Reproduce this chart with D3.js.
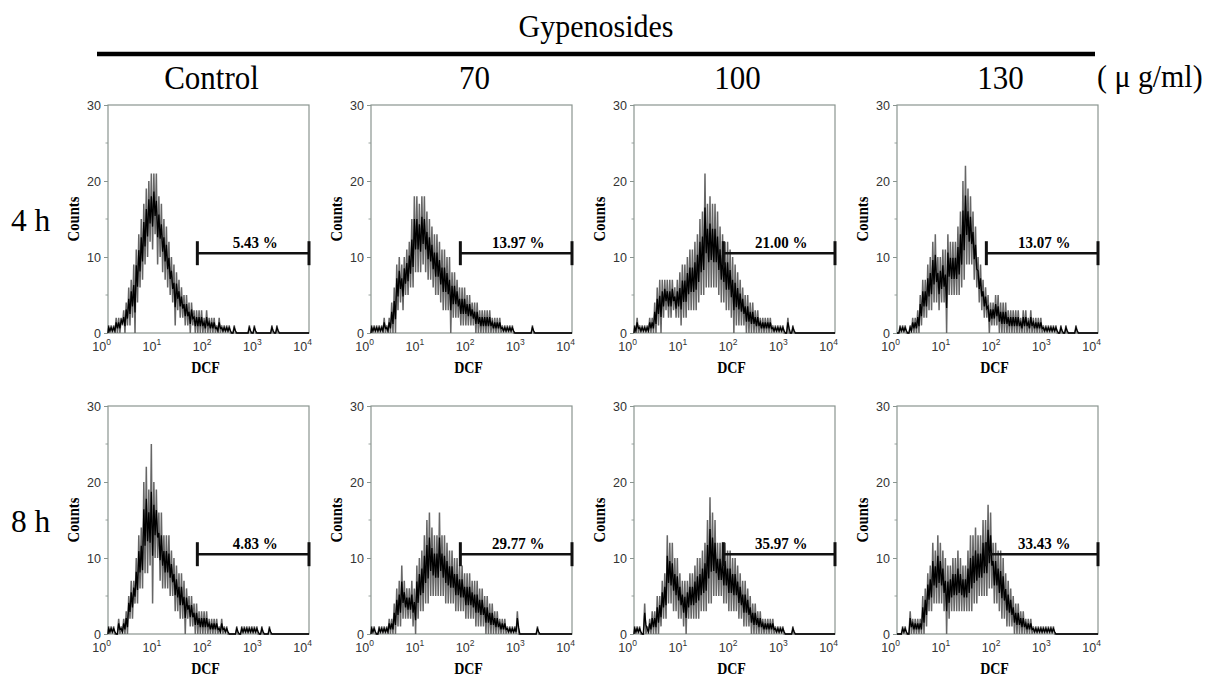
<!DOCTYPE html>
<html><head><meta charset="utf-8">
<script src="https://cdn.jsdelivr.net/npm/d3@7"></script>
<style>body{margin:0;background:#fff}</style>
</head><body>
<svg id="c" width="1208" height="678"></svg>
<script>
const title = "Gypenosides";
const columns = ["Control", "70", "100", "130"];
const unitLabel = "( \u03bc g/ml)";
const rows = ["4 h", "8 h"];
const gateLabels = [["5.43 %", "13.97 %", "21.00 %", "13.07 %"], ["4.83 %", "29.77 %", "35.97 %", "33.43 %"]];
const yTicks = [0, 10, 20, 30];
const yMinorTicks = [5, 15, 25];
const xTickExps = [0, 1, 2, 3, 4];
const gateStart = 60, gateEnd = 10000, gateLevel = 10.5;
// bin centres (log10 of DCF), 0.05 decade wide
const binDecades = d3.range(80).map(i => 0.025 + 0.05 * i);

// upper / lower envelope of counts in each bin
const hi_4h_control = [1,1,1,2,2,2,3,4,6,7, 9,11,13,15,17,19,20,21,21,21, 18,17,15,14,12,10,9,8,7,6, 5,5,4,4,3,3,3,3,2,3, 2,2,2,1,2,1,1,1,1,0, 1,0,0,0,0,0,1,0,1,0, 0,0,0,0,0,1,0,1,0,0, 0,0,0,0,0,0,0,0,0,0];
const lo_4h_control = [0,0,0,0,0,1,0,1,1,2, 0,4,6,7,9,10,12,11,13,9, 10,8,7,6,5,4,1,3,2,2, 1,1,0,1,0,0,0,0,0,0, 0,0,0,0,0,0,0,0,0,0, 0,0,0,0,0,0,0,0,0,0, 0,0,0,0,0,0,0,0,0,0, 0,0,0,0,0,0,0,0,0,0];
const hi_4h_70 = [1,1,1,1,1,2,1,2,4,6, 9,10,9,10,11,12,15,18,18,17, 18,18,16,15,14,13,13,12,11,11, 10,10,8,8,7,6,6,6,5,5, 4,4,4,3,3,3,3,3,2,2, 2,2,1,1,1,1,1,0,0,0, 0,0,0,0,1,0,0,0,0,0, 0,0,0,0,0,0,0,0,0,0];
const lo_4h_70 = [0,0,0,0,0,0,0,0,0,0, 3,4,3,5,5,6,6,8,8,8, 9,8,7,7,6,5,5,4,3,3, 3,0,2,2,2,1,1,1,1,1, 1,0,0,0,0,0,0,0,0,0, 0,0,0,0,0,0,0,0,0,0, 0,0,0,0,0,0,0,0,0,0, 0,0,0,0,0,0,0,0,0,0];
const hi_4h_100 = [1,2,1,1,1,1,2,2,4,6, 7,7,7,7,7,7,6,7,8,9, 9,10,11,11,12,13,15,16,21,17, 18,17,17,16,14,13,12,12,11,10, 9,8,7,6,5,5,4,4,3,3, 2,2,2,2,2,1,1,1,1,1, 0,2,0,1,0,0,0,0,0,0, 0,0,0,0,0,0,0,0,0,0];
const lo_4h_100 = [0,0,0,0,0,0,0,0,0,1, 0,2,3,2,2,3,2,2,1,2, 2,3,3,3,3,4,5,5,6,6, 6,6,6,5,4,4,3,3,2,0, 1,1,1,1,0,0,0,0,0,0, 0,0,0,0,0,0,0,0,0,0, 0,0,0,0,0,0,0,0,0,0, 0,0,0,0,0,0,0,0,0,0];
const hi_4h_130 = [0,1,1,1,0,1,2,2,3,5, 7,7,9,10,12,13,10,10,11,11, 13,12,12,12,14,16,20,22,19,18, 16,14,10,9,7,6,5,4,4,5, 5,4,4,4,3,3,3,3,3,2, 3,3,2,3,2,2,2,2,1,1, 1,1,1,1,0,1,0,1,0,0, 0,1,0,0,0,0,0,0,0,0];
const lo_4h_130 = [0,0,0,0,0,0,0,0,0,1, 2,2,3,3,4,4,3,4,4,0, 5,5,5,5,5,6,7,9,9,9, 7,6,4,3,2,2,0,1,1,1, 0,0,0,0,0,0,0,0,0,0, 0,0,0,0,0,0,0,0,0,0, 0,0,0,0,0,0,0,0,0,0, 0,0,0,0,0,0,0,0,0,0];
const hi_8h_control = [1,1,1,0,2,1,2,3,5,7, 7,10,13,14,20,22,19,25,20,19, 16,16,13,13,13,11,10,9,8,8, 7,6,5,5,4,4,3,3,3,3, 2,2,2,2,1,2,1,1,0,0, 0,1,0,1,1,1,1,1,1,1, 0,1,0,0,1,0,0,0,0,0, 0,0,0,0,0,0,0,0,0,0];
const lo_8h_control = [0,0,0,0,0,0,0,0,2,2, 4,4,6,6,8,8,9,4,10,10, 7,6,6,6,5,5,3,3,2,2, 0,2,1,1,0,0,0,0,0,0, 0,0,0,0,0,0,0,0,0,0, 0,0,0,0,0,0,0,0,0,0, 0,0,0,0,0,0,0,0,0,0, 0,0,0,0,0,0,0,0,0,0];
const hi_8h_70 = [1,1,0,1,1,1,1,2,2,4, 6,7,9,7,6,6,7,6,9,10, 11,13,15,16,14,13,13,16,13,13, 12,11,11,10,10,9,9,8,8,8, 7,7,7,6,6,5,5,4,4,3, 3,2,2,2,1,1,1,1,3,0, 0,0,0,0,0,0,1,0,0,0, 0,0,0,0,0,0,0,0,0,0];
const lo_8h_70 = [0,0,0,0,0,0,0,0,0,0, 1,1,2,2,2,2,1,0,2,3, 3,4,4,5,5,5,5,5,5,4, 4,4,4,3,3,3,3,2,2,2, 2,1,1,1,1,0,0,0,0,0, 0,0,0,0,0,0,0,0,0,0, 0,0,0,0,0,0,0,0,0,0, 0,0,0,0,0,0,0,0,0,0];
const hi_8h_100 = [1,1,1,0,4,1,2,3,3,5, 5,7,8,13,12,12,10,10,8,7, 7,7,8,8,9,10,10,11,12,15, 18,16,15,12,12,12,12,11,11,10, 10,9,8,7,7,6,5,4,4,3, 3,2,2,2,2,2,1,1,1,1, 0,0,0,1,0,0,0,0,0,0, 0,0,0,0,0,0,0,0,0,0];
const lo_8h_100 = [0,0,0,0,0,0,0,0,0,0, 1,2,2,4,4,3,3,2,2,1, 0,2,2,2,2,2,3,3,3,4, 4,5,5,5,5,4,4,3,3,3, 3,2,2,1,1,1,0,0,0,0, 0,0,0,0,0,0,0,0,0,0, 0,0,0,0,0,0,0,0,0,0, 0,0,0,0,0,0,0,0,0,0];
const hi_8h_130 = [0,0,1,1,0,3,2,2,2,2, 5,6,8,9,12,11,13,12,11,10, 9,9,10,10,11,10,9,9,11,13, 13,14,13,13,15,15,17,16,12,12, 11,11,10,8,7,6,5,4,4,3, 3,2,2,2,1,1,1,1,1,1, 1,1,1,0,0,0,0,0,0,0, 0,0,0,0,0,0,0,0,0,0];
const lo_8h_130 = [0,0,0,0,0,0,0,0,0,0, 0,1,3,3,4,4,4,4,3,0, 2,3,3,3,3,3,3,3,3,3, 4,4,5,5,5,5,6,6,4,4, 3,2,2,1,1,1,0,0,0,0, 0,0,0,0,0,0,0,0,0,0, 0,0,0,0,0,0,0,0,0,0, 0,0,0,0,0,0,0,0,0,0];

const panelHi = [[hi_4h_control, hi_4h_70, hi_4h_100, hi_4h_130], [hi_8h_control, hi_8h_70, hi_8h_100, hi_8h_130]];
const panelLo = [[lo_4h_control, lo_4h_70, lo_4h_100, lo_4h_130], [lo_8h_control, lo_8h_70, lo_8h_100, lo_8h_130]];

const SERIF = '"Liberation Serif","Times New Roman",serif';
const SANS = '"Liberation Sans",Arial,sans-serif';
const svg = d3.select("#c");

const panelLeft = [108, 371, 634, 897];
const rowTop = [105, 406];
const pw = 201, ph = 228;

// header
svg.append("text").attr("transform", "translate(596,37) scale(1,1.08)").attr("text-anchor", "middle")
  .style("font-family", SERIF).style("font-size", "30px").text(title);
svg.append("line").attr("x1", 97).attr("x2", 1095).attr("y1", 54).attr("y2", 54)
  .attr("stroke", "#000").attr("stroke-width", 4.5);
columns.forEach((c, j) => {
  svg.append("text").attr("transform", `translate(${panelLeft[j] + pw / 2 + 3},89) scale(1,1.08)`).attr("text-anchor", "middle")
    .style("font-family", SERIF).style("font-size", "31px").text(c);
});
svg.append("text").attr("transform", "translate(1097,87) scale(1.03,1.08)")
  .style("font-family", SERIF).style("font-size", "29px").text(unitLabel);
rows.forEach((r, i) => {
  svg.append("text").attr("transform", `translate(11,${rowTop[i] + 126}) scale(1.05,1.08)`)
    .style("font-family", SERIF).style("font-size", "30px").text(r);
});

const x = d3.scaleLog().domain([1, 1e4]).range([0, pw]);
const y = d3.scaleLinear().domain([0, 30]).range([ph, 0]);
const line = d3.line().x(p => x(p[0])).y(p => y(p[1]));

rows.forEach((r, i) => {
  columns.forEach((c, j) => {
    const g = svg.append("g").attr("transform", `translate(${panelLeft[j]},${rowTop[i]})`);
    const hi = panelHi[i][j], lo = panelLo[i][j];

    // y axis
    const ya = g.append("g").call(d3.axisLeft(y).tickValues(yTicks).tickSize(4).tickPadding(3));
    ya.select(".domain").remove();
    ya.selectAll("line").attr("stroke", "#8a9590");
    ya.selectAll("text").style("font-family", SANS).style("font-size", "12.5px").attr("fill", "#333");
    g.selectAll(".minor").data(yMinorTicks).join("line").attr("class", "minor")
      .attr("x1", -2.5).attr("x2", 0).attr("y1", d => y(d)).attr("y2", d => y(d)).attr("stroke", "#9aa4a0");

    // frame
    g.append("rect").attr("width", pw).attr("height", ph).attr("fill", "none")
      .attr("stroke", "#8a9590").attr("stroke-width", 1.2);

    // x tick labels
    const xt = g.selectAll(".xt").data(xTickExps).join("text").attr("class", "xt")
      .attr("x", e => x(Math.pow(10, e)) + 3).attr("y", ph + 18).attr("text-anchor", "end")
      .style("font-family", SANS).style("font-size", "12.5px").attr("fill", "#333");
    xt.append("tspan").text("10");
    xt.append("tspan").attr("dy", -6).style("font-size", "8.5px").text(e => e);

    // histogram: outer envelope zigzag and darker core
    const outer = [[1, 0]];
    const core = [[1, 0]];
    binDecades.forEach((d, k) => {
      outer.push([Math.pow(10, d - 0.0125), hi[k]], [Math.pow(10, d + 0.0125), lo[k]]);
      const span = hi[k] - lo[k];
      core.push([Math.pow(10, d - 0.0125), hi[k] - 0.3 * span], [Math.pow(10, d + 0.0125), lo[k] + 0.3 * span]);
    });
    outer.push([1e4, 0]);
    core.push([1e4, 0]);
    g.append("path").attr("d", line(outer)).attr("fill", "none").attr("stroke", "#666").attr("stroke-width", 1.5);
    g.append("path").attr("d", line(core)).attr("fill", "none").attr("stroke", "#000").attr("stroke-width", 1.3);

    // gate marker
    const gx1 = x(gateStart), gx2 = x(gateEnd), gy = y(gateLevel);
    g.append("line").attr("x1", gx1).attr("x2", gx2).attr("y1", gy).attr("y2", gy).attr("stroke", "#111").attr("stroke-width", 2.5);
    [gx1, gx2].forEach(v => g.append("line").attr("x1", v).attr("x2", v).attr("y1", gy - 12).attr("y2", gy + 12)
      .attr("stroke", "#111").attr("stroke-width", 3));
    g.append("text").attr("transform", `translate(${(gx1 + gx2) / 2 + 2},${gy - 5}) scale(1,1.1)`).attr("text-anchor", "middle")
      .style("font-family", SERIF).style("font-size", "15px").style("font-weight", "bold").text(gateLabels[i][j]);

    // axis titles
    g.append("text").attr("transform", `translate(-29,${ph / 2}) rotate(-90) scale(1.05,1.15)`).attr("text-anchor", "middle")
      .style("font-family", SERIF).style("font-size", "14px").style("font-weight", "bold").text("Counts");
    g.append("text").attr("transform", `translate(${pw / 2 - 3},${ph + 40}) scale(1,1.2)`).attr("text-anchor", "middle")
      .style("font-family", SERIF).style("font-size", "14px").style("font-weight", "bold").text("DCF");
  });
});
</script>
</body></html>
